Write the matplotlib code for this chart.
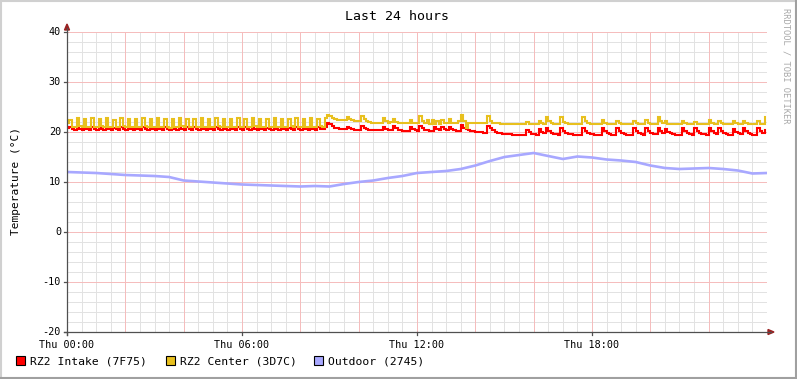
import numpy as np
import matplotlib
matplotlib.use("Agg")
import matplotlib.pyplot as plt
from matplotlib.patches import Rectangle, Polygon
from matplotlib.lines import Line2D

# ---------------- data (5-minute samples, 288 per series) ----------------
step_minutes = 5

intake = [
    20.8, 21.0, 20.7, 20.5, 21.1, 20.7, 20.5, 21.0, 20.7, 20.5, 21.1, 20.7,
    20.5, 21.0, 20.7, 20.5, 21.1, 20.6, 20.5, 20.9, 20.7, 20.5, 21.1, 20.7,
    20.5, 21.0, 20.7, 20.5, 20.9, 20.6, 20.5, 21.1, 20.7, 20.5, 21.0, 20.6,
    20.5, 21.1, 20.7, 20.5, 21.0, 20.6, 20.4, 20.9, 20.7, 20.5, 21.1, 20.7,
    20.5, 21.0, 20.6, 20.5, 21.0, 20.7, 20.5, 21.1, 20.6, 20.5, 20.9, 20.6,
    20.5, 21.1, 20.7, 20.5, 21.0, 20.6, 20.5, 21.0, 20.7, 20.5, 21.1, 20.6,
    20.5, 21.0, 20.6, 20.5, 21.1, 20.7, 20.5, 21.0, 20.6, 20.5, 20.9, 20.6,
    20.5, 21.1, 20.7, 20.5, 21.0, 20.6, 20.5, 20.9, 20.7, 20.5, 21.1, 20.7,
    20.5, 21.0, 20.7, 20.5, 21.1, 20.6, 20.5, 21.0, 20.7, 20.6, 21.1, 21.9,
    21.6, 21.2, 20.9, 20.8, 20.7, 20.6, 20.6, 21.1, 20.8, 20.6, 20.5, 20.5,
    20.5, 21.2, 20.8, 20.6, 20.5, 20.4, 20.4, 20.4, 20.4, 20.4, 21.1, 20.7,
    20.5, 20.4, 21.3, 20.8, 20.5, 20.4, 20.3, 20.3, 20.3, 21.0, 20.6, 20.4,
    20.3, 21.3, 20.8, 20.5, 20.4, 20.3, 20.3, 21.0, 20.6, 20.4, 21.1, 20.6,
    20.4, 21.0, 20.6, 20.4, 20.3, 20.3, 21.5, 20.9, 20.6, 20.4, 20.3, 20.2,
    20.1, 20.0, 20.0, 19.9, 19.9, 21.2, 20.8, 20.4, 20.1, 19.9, 19.8, 19.7,
    19.7, 19.6, 19.6, 19.5, 19.5, 19.5, 19.4, 19.4, 19.4, 20.4, 20.0, 19.7,
    19.6, 19.5, 20.6, 20.1, 19.8, 20.9, 20.3, 19.9, 19.7, 19.6, 19.5, 20.8,
    20.2, 19.9, 19.7, 19.6, 19.5, 19.5, 19.5, 19.5, 20.9, 20.3, 19.9, 19.7,
    19.6, 19.5, 19.5, 19.5, 20.8, 20.2, 19.8, 19.6, 19.5, 19.5, 20.8, 20.2,
    19.8, 19.6, 19.5, 19.5, 19.5, 20.8, 20.2, 19.8, 19.6, 19.5, 20.9, 20.3,
    19.9, 19.7, 19.6, 20.9, 20.3, 19.9, 20.6, 20.1, 19.8, 19.6, 19.5, 19.5,
    19.5, 20.8, 20.2, 19.8, 19.6, 19.5, 20.9, 20.3, 19.9, 19.7, 19.6, 19.5,
    20.9, 20.3, 19.9, 19.7, 20.8, 20.2, 19.8, 19.6, 19.5, 19.5, 20.7, 20.1,
    19.8, 19.6, 20.8, 20.2, 19.8, 19.6, 19.5, 19.5, 20.8, 20.2, 19.8, 20.5,
]

center = [
    21.9, 22.5, 21.1, 21.0, 22.8, 21.2, 21.0, 22.7, 21.1, 21.0, 22.9, 21.1,
    21.0, 22.6, 21.2, 21.0, 22.8, 21.1, 21.0, 22.5, 21.1, 21.0, 22.9, 21.2,
    21.0, 22.7, 21.1, 21.0, 22.6, 21.1, 21.0, 22.8, 21.2, 21.0, 22.6, 21.1,
    21.0, 22.9, 21.1, 21.0, 22.7, 21.1, 20.9, 22.6, 21.1, 21.0, 22.8, 21.2,
    21.0, 22.6, 21.1, 21.0, 22.7, 21.1, 21.0, 22.9, 21.1, 21.0, 22.6, 21.1,
    21.0, 22.8, 21.2, 21.0, 22.6, 21.1, 21.0, 22.7, 21.1, 21.0, 22.8, 21.1,
    21.0, 22.6, 21.1, 21.0, 22.9, 21.2, 21.0, 22.7, 21.1, 21.0, 22.6, 21.1,
    21.0, 22.8, 21.1, 21.0, 22.7, 21.1, 21.0, 22.6, 21.2, 21.0, 22.8, 21.1,
    21.0, 22.6, 21.1, 21.0, 22.8, 21.1, 21.0, 22.7, 21.2, 21.1, 22.9, 23.5,
    23.3, 22.8, 22.6, 22.5, 22.5, 22.4, 22.4, 23.1, 22.6, 22.4, 22.3, 22.3,
    22.3, 23.2, 22.6, 22.2, 22.0, 21.9, 21.8, 21.8, 21.8, 21.8, 22.9, 22.2,
    21.9, 22.0, 22.6, 22.0, 21.8, 21.8, 21.8, 21.8, 21.9, 22.4, 21.9, 21.8,
    21.8, 23.2, 22.2, 21.8, 22.4, 21.6, 22.5, 21.7, 22.3, 21.7, 22.5, 21.8,
    21.9, 22.6, 21.9, 21.8, 21.9, 22.2, 23.4, 22.3, 20.8, 21.9, 21.8, 21.8,
    21.8, 21.8, 21.8, 21.8, 21.8, 23.2, 22.3, 21.9, 21.8, 21.8, 21.7, 21.7,
    21.7, 21.6, 21.6, 21.6, 21.6, 21.6, 21.6, 21.6, 21.6, 22.0, 21.7, 21.6,
    21.6, 21.6, 22.3, 21.8, 21.7, 23.1, 22.2, 21.8, 21.7, 21.7, 21.7, 23.0,
    22.1, 21.8, 21.7, 21.7, 21.7, 21.7, 21.6, 21.7, 23.1, 22.2, 21.8, 21.7,
    21.7, 21.7, 21.6, 21.6, 22.4, 21.9, 21.7, 21.6, 21.6, 21.6, 22.3, 21.8,
    21.7, 21.6, 21.6, 21.6, 21.6, 22.3, 21.8, 21.7, 21.6, 21.6, 22.4, 21.8,
    21.7, 21.6, 21.6, 23.1, 22.2, 21.8, 22.2, 21.7, 21.6, 21.6, 21.6, 21.6,
    21.6, 22.3, 21.8, 21.7, 21.6, 21.6, 22.0, 21.7, 21.6, 21.6, 21.6, 21.6,
    22.5, 21.9, 21.7, 21.6, 22.3, 21.8, 21.6, 21.6, 21.6, 21.6, 22.3, 21.8,
    21.7, 21.6, 22.3, 21.8, 21.6, 21.6, 21.6, 21.6, 22.2, 21.7, 21.6, 23.1,
]

# outdoor, 30-minute samples
outdoor = [
    12.0, 11.9, 11.8, 11.6, 11.4, 11.3, 11.2, 11.0, 10.3, 10.1,
    9.9, 9.7, 9.5, 9.4, 9.3, 9.2, 9.1, 9.2, 9.1, 9.6,
    10.0, 10.3, 10.8, 11.2, 11.8, 12.0, 12.2, 12.6, 13.3, 14.2,
    15.0, 15.4, 15.8, 15.2, 14.6, 15.1, 14.9, 14.5, 14.3, 14.0,
    13.3, 12.8, 12.6, 12.7, 12.8, 12.6, 12.3, 11.7, 11.8,
]

series_names = ["RZ2 Intake (7F75)", "RZ2 Center (3D7C)", "Outdoor (2745)"]
series_colors = ["#FF0000", "#E8C01E", "#A8A8FF"]
x_tick_hours = [0, 6, 12, 18]
x_tick_labels = ["Thu 00:00", "Thu 06:00", "Thu 12:00", "Thu 18:00"]
y_ticks = [40, 30, 20, 10, 0, -10, -20]

# ---------------- figure ----------------
W, H = 797, 379
MONO = "DejaVu Sans Mono"
fig = plt.figure(figsize=(W / 100, H / 100), dpi=100, facecolor="white")


def fx(px):
    return px / W


def fy(py):
    return 1 - py / H


L, R, T, B = 67, 767, 32, 332
ax = fig.add_axes([fx(L), fy(B), (R - L) / W, (B - T) / H])
ax.set_xlim(0, 24)
ax.set_ylim(-20, 40)
ax.set_facecolor("white")
for s in ax.spines.values():
    s.set_visible(False)
ax.set_xticks([])
ax.set_yticks([])

# grid
minor_col = "#E2E2E2"
major_col = "#F5BDBD"
for v in np.arange(-20, 41, 2):
    if v % 10 == 0:
        continue
    ax.axhline(v, color=minor_col, lw=0.72, zorder=0, antialiased=False)
for h in np.arange(0, 24.01, 0.5):
    if h % 2 == 0:
        continue
    ax.axvline(h, color=minor_col, lw=0.72, zorder=0, antialiased=False)
for v in np.arange(-20, 41, 10):
    ax.axhline(v, color=major_col, lw=0.72, zorder=1, antialiased=False)
for h in np.arange(0, 24.01, 2):
    ax.axvline(h, color=major_col, lw=0.72, zorder=1, antialiased=False)

# data lines
t5 = np.arange(len(intake)) * step_minutes / 60.0
t30 = np.arange(len(outdoor)) * 0.5
ax.plot(t5, intake, color=series_colors[0], lw=1.5, drawstyle="steps-post",
        zorder=3, solid_joinstyle="miter")
ax.plot(t5, center, color=series_colors[1], lw=1.5, drawstyle="steps-post",
        zorder=4, solid_joinstyle="miter")
ax.plot(t30, outdoor, color=series_colors[2], lw=1.9, zorder=5)

# axes lines with arrows
axis_col = "#505050"
arrow_col = "#992222"
fig.add_artist(Line2D([fx(L), fx(L)], [fy(B + 3), fy(T - 4)], color=axis_col, lw=0.9))
fig.add_artist(Line2D([fx(L - 3), fx(R + 4)], [fy(B), fy(B)], color=axis_col, lw=0.9))
fig.add_artist(Polygon([[fx(L - 2.5), fy(T - 2)], [fx(L + 2.5), fy(T - 2)], [fx(L), fy(T - 8)]],
                       closed=True, color=arrow_col, transform=fig.transFigure))
fig.add_artist(Polygon([[fx(R + 1), fy(B - 2.5)], [fx(R + 1), fy(B + 2.5)], [fx(R + 7), fy(B)]],
                       closed=True, color=arrow_col, transform=fig.transFigure))

# y ticks & labels
for v in y_ticks:
    py = B - (v + 20) * (B - T) / 60.0
    fig.add_artist(Line2D([fx(L - 3), fx(L)], [fy(py), fy(py)], color=axis_col, lw=0.9))
    fig.text(fx(61), fy(py), str(v), ha="right", va="center", fontsize=7.3,
             family=MONO, color="#000000")

# x ticks & labels
for hr, lab in zip(x_tick_hours, x_tick_labels):
    px = L + hr * (R - L) / 24.0
    fig.add_artist(Line2D([fx(px), fx(px)], [fy(B), fy(B + 3)], color=axis_col, lw=0.9))
    fig.text(fx(px), fy(345), lab, ha="center", va="center", fontsize=7.3,
             family=MONO, color="#000000")

# title, axis label, watermark
fig.text(fx(397), fy(16), "Last 24 hours", ha="center", va="center", fontsize=9.5,
         family=MONO, color="#000000")
fig.text(fx(16), fy(181), "Temperature (°C)", ha="center", va="center", rotation=90,
         fontsize=8.0, family=MONO, color="#000000")
fig.text(fx(786), fy(8), "RRDTOOL / TOBI OETIKER", ha="center", va="top", rotation=270,
         fontsize=6.3, family=MONO, color="#A8A8A8")

# legend
leg_x = [16, 166, 314]
for lx, name, col in zip(leg_x, series_names, series_colors):
    fig.add_artist(Rectangle((fx(lx), fy(365)), 9 / W, 9 / H, transform=fig.transFigure,
                             facecolor=col, edgecolor="#000000", lw=0.8))
    fig.text(fx(lx + 14), fy(361), name, ha="left", va="center", fontsize=8.2,
             family=MONO, color="#000000")

# canvas border (3D effect)
fig.add_artist(Line2D([0, 1], [fy(1), fy(1)], color="#D0D0D0", lw=1.5))
fig.add_artist(Line2D([fx(1), fx(1)], [0, 1], color="#D0D0D0", lw=1.5))
fig.add_artist(Line2D([0, 1], [fy(378), fy(378)], color="#A0A0A0", lw=1.5))
fig.add_artist(Line2D([fx(796), fx(796)], [0, 1], color="#A0A0A0", lw=1.5))

fig.savefig("out.png", dpi=100, facecolor="white")
